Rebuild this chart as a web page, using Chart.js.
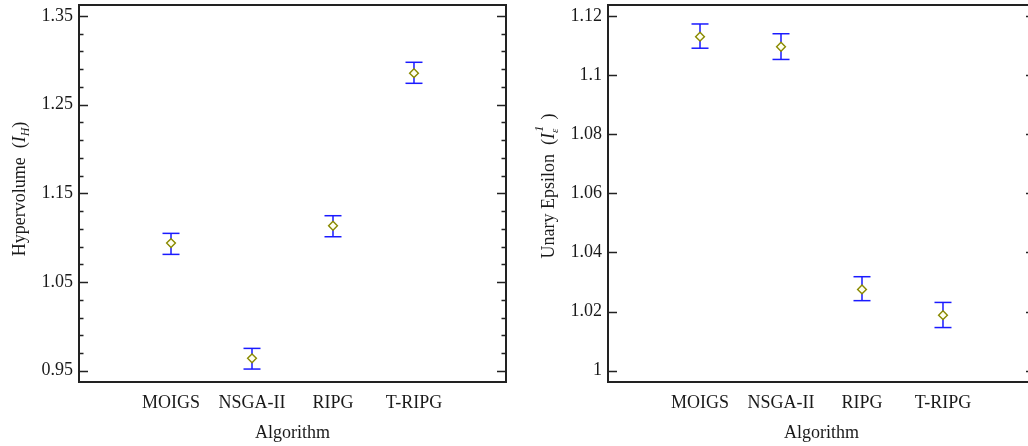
<!DOCTYPE html>
<html>
<head>
<meta charset="utf-8">
<script src="https://cdn.jsdelivr.net/npm/chart.js@4/dist/chart.umd.min.js"></script>
<style>
html,body{margin:0;padding:0;background:#fff;overflow:hidden;width:1028px;height:446px;}
#c1{position:absolute;left:0;top:0;}
#c2{position:absolute;left:520px;top:0;}
</style>
</head>
<body>
<canvas id="c1" width="520" height="446"></canvas>
<canvas id="c2" width="520" height="446"></canvas>
<script>
// ---- data ----
const algorithms = ['MOIGS', 'NSGA-II', 'RIPG', 'T-RIPG'];
const hvMean = [1.094, 0.964, 1.1135, 1.2855];
const hvLow  = [1.0812, 0.9519, 1.1011, 1.2741];
const hvHigh = [1.1049, 0.9752, 1.1248, 1.2978];
const epsMean = [1.1130, 1.1096, 1.0275, 1.0188];
const epsLow  = [1.1091, 1.1053, 1.0237, 1.0146];
const epsHigh = [1.1173, 1.1140, 1.0318, 1.0231];
const hvTicks = [0.95, 1.05, 1.15, 1.25, 1.35];
const hvTickLabels = ['0.95', '1.05', '1.15', '1.25', '1.35'];
const epsTicks = [1, 1.02, 1.04, 1.06, 1.08, 1.1, 1.12];
const epsTickLabels = ['1', '1.02', '1.04', '1.06', '1.08', '1.1', '1.12'];
const xTitle = 'Algorithm';

const FONT = "'Liberation Serif', 'Times New Roman', serif";
const TXT = '#1a1a1a';

function drawRich(ctx, segs, cx, cy) {
  ctx.save();
  ctx.translate(cx, cy);
  ctx.rotate(-Math.PI / 2);
  ctx.textBaseline = 'alphabetic';
  ctx.fillStyle = TXT;
  let total = 0;
  const widths = segs.map(s => {
    ctx.font = s.f;
    const w = ctx.measureText(s.t).width;
    if (!s.stack) total += w;
    return w;
  });
  let x = -total / 2;
  let prevX = x;
  segs.forEach((s, i) => {
    ctx.font = s.f;
    if (s.stack) {
      ctx.fillText(s.t, prevX + (s.dx || 0), 6 + (s.dy || 0));
    } else {
      ctx.fillText(s.t, x, 6 + (s.dy || 0));
      prevX = x;
      x += widths[i];
    }
  });
  ctx.restore();
}

const framePlugin = {
  id: 'frame',
  afterDraw(chart, args, o) {
    const {ctx, chartArea: a} = chart;
    const y = chart.scales.y;
    ctx.save();
    ctx.strokeStyle = '#222';
    ctx.lineWidth = 1.5;
    const tick = (v, len, leftSide, rightSide) => {
      const py = Math.round(y.getPixelForValue(v)) + 0.5;
      ctx.beginPath();
      if (leftSide) { ctx.moveTo(a.left, py); ctx.lineTo(a.left + len, py); }
      if (rightSide) { ctx.moveTo(a.right, py); ctx.lineTo(a.right - len, py); }
      ctx.stroke();
    };
    o.major.forEach(v => tick(v, 9, true, true));
    if (o.minorStep) {
      const first = o.major[0], last = o.major[o.major.length - 1];
      for (let v = first; v < last + 1e-9; v += o.minorStep) {
        const isMajor = o.major.some(m => Math.abs(m - v) < 1e-6);
        if (!isMajor) tick(v, 4.5, true, true);
      }
    }
    ctx.lineWidth = 2;
    ctx.strokeStyle = '#222';
    ctx.strokeRect(a.left, a.top, a.right - a.left, a.bottom - a.top);
    ctx.restore();
    drawRich(ctx, o.title, o.titleX, o.titleY);
  }
};

function makeDatasets(mean, low, high) {
  const ds = [{
    type: 'scatter',
    data: mean.map((v, i) => ({x: i + 1, y: v})),
    pointStyle: 'rectRot',
    pointRadius: 4.4,
    pointBorderWidth: 1.4,
    pointBorderColor: '#8a8a00',
    pointBackgroundColor: '#fffff0',
    showLine: false
  }];
  mean.forEach((_, i) => {
    ds.push({
      type: 'line',
      data: [{x: i + 1, y: low[i]}, {x: i + 1, y: high[i]}],
      borderColor: '#1a1aff',
      borderWidth: 1.5,
      pointStyle: 'line',
      pointRadius: 8.5,
      pointBorderColor: '#1a1aff',
      pointBorderWidth: 1.5,
      fill: false
    });
  });
  return ds;
}

function makeChart(id, mean, low, high, ticks, tickLabels, ymin, ymax, yAxisWidth, padRight, frameOpts) {
  return new Chart(document.getElementById(id), {
    type: 'scatter',
    data: {datasets: makeDatasets(mean, low, high)},
    options: {
      responsive: false,
      animation: false,
      devicePixelRatio: 1,
      layout: {autoPadding: false, padding: {top: 5, right: padRight, bottom: 0, left: 0}},
      plugins: {legend: {display: false}, tooltip: {enabled: false}, frame: frameOpts},
      scales: {
        x: {
          type: 'linear',
          min: -0.136, max: 5.136,
          grid: {display: false, drawTicks: false},
          border: {display: false},
          afterBuildTicks: s => { s.ticks = algorithms.map((_, i) => ({value: i + 1})); },
          afterFit: s => { s.height = 64; s.paddingLeft = 0; s.paddingRight = 0; },
          ticks: {
            autoSkip: false, maxRotation: 0, padding: 10,
            color: TXT, font: {family: FONT, size: 18},
            callback: v => algorithms[Math.round(v) - 1] || ''
          },
          title: {display: true, text: xTitle, color: TXT, font: {family: FONT, size: 18}, padding: {top: 0, bottom: 2}}
        },
        y: {
          type: 'linear',
          min: ymin, max: ymax,
          grid: {display: false, drawTicks: false},
          border: {display: false},
          afterBuildTicks: s => { s.ticks = ticks.map(v => ({value: v})); },
          afterFit: s => { s.width = yAxisWidth; s.paddingTop = 0; s.paddingBottom = 0; },
          ticks: {
            padding: 6, color: TXT, font: {family: FONT, size: 18},
            callback: v => { const i = ticks.findIndex(t => Math.abs(t - v) < 1e-9); return i >= 0 ? tickLabels[i] : ''; }
          }
        }
      }
    },
    plugins: [framePlugin]
  });
}

const serif = s => s + 'px ' + FONT;
const iserif = s => 'italic ' + s + 'px ' + FONT;

makeChart('c1', hvMean, hvLow, hvHigh, hvTicks, hvTickLabels, 0.9373, 1.3624, 79, 14, {
  major: hvTicks, minorStep: 0.02, titleX: 19, titleY: 189,
  title: [
    {t: 'Hypervolume  (', f: serif(18)},
    {t: 'I', f: iserif(18)},
    {t: 'H', f: iserif(12), dy: 4},
    {t: ')', f: serif(18)}
  ]
});

makeChart('c2', epsMean, epsLow, epsHigh, epsTicks, epsTickLabels, 0.99618, 1.12372, 88, 5, {
  major: epsTicks, minorStep: 0, titleX: 28, titleY: 186,
  title: [
    {t: 'Unary Epsilon  (', f: serif(18)},
    {t: 'I', f: iserif(18)},
    {t: 'ε', f: iserif(11), dy: 4},
    {t: '1', f: iserif(13), dy: -11, dx: 1, stack: true},
    {t: '  )', f: serif(18)}
  ]
});
</script>
</body>
</html>
